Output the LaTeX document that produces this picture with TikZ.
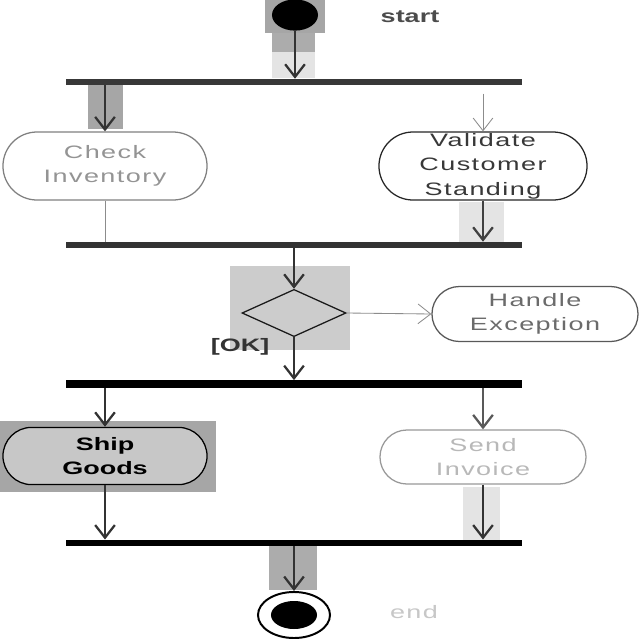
\documentclass[tikz,border=0pt]{standalone}
\usepackage{fontspec}
\newfontfamily\dfont[FakeStretch=1.5,LetterSpace=8]{Liberation Sans}
\newfontfamily\dbfont[FakeStretch=1.5]{Liberation Sans}
\usetikzlibrary{shapes.geometric,shapes.misc,arrows.meta}
\definecolor{boxA}{HTML}{A6A6A6}
\definecolor{boxB}{HTML}{ACACAC}
\definecolor{boxL}{HTML}{E4E4E4}
\definecolor{boxD}{HTML}{CCCCCC}
\tikzset{
  txt/.style={font=\dfont\fontsize{12.8}{17.4}\selectfont},
  btxt/.style={font=\dbfont\bfseries\fontsize{12.8}{17.4}\selectfont},
  activity/.style={rounded rectangle, draw, line width=0.9pt, align=center, inner sep=0pt,
     minimum width=5.1cm, minimum height=1.7cm, txt},
  bar/.style={rectangle, inner sep=0pt, minimum width=11.375cm},
  flow/.style={line width=1.6pt, draw=black!80, -{Straight Barb[length=9pt,width=14pt]}},
  thinflow/.style={line width=0.6pt, draw=black!45, -{Straight Barb[length=9pt,width=14pt]}},
}
\begin{document}
\begin{tikzpicture}[x=0.025cm,y=-0.025cm]
\useasboundingbox (0,0) rectangle (640,640);
\fill[white] (0,0) rectangle (640,640);
% highlight boxes
\fill[boxA] (265,0) rectangle (325,33);
\fill[boxB] (272,33) rectangle (315,52);
\fill[boxL] (272,52) rectangle (315,78);
\fill[boxA] (88,84) rectangle (123,129);
\fill[boxL] (459,202) rectangle (504,246);
\fill[boxD] (230,266) rectangle (350,350);
\fill[boxA] (0,421) rectangle (216,492);
\fill[boxL] (463,487) rectangle (500,540);
\fill[boxB] (269,546) rectangle (317,590);
% nodes
\node[ellipse, fill=black, minimum width=1.15cm, minimum height=0.78cm, inner sep=0pt] (start) at (295,15) {};
\node[btxt, text=black!70] (startlbl) at (410,17) {start};
\node[bar, fill=black!78, minimum height=0.15cm] (bar1) at (294,82) {};
\node[activity, draw=black!50, text=black!42] (check) at (105,166) {Check\\Inventory};
\node[activity, draw=black!85, text=black!78, minimum width=5.2cm] (validate) at (483,166) {Validate\\Customer\\Standing};
\node[bar, fill=black!80, minimum height=0.15cm] (bar2) at (294,245) {};
\node[diamond, draw=black!90, fill=boxD, line width=0.9pt, inner sep=0pt, minimum width=2.6cm, minimum height=1.18cm] (dec) at (294,313) {};
\node[activity, draw=black!65, text=black!58, minimum width=5.15cm, minimum height=1.375cm] (handle) at (535,314) {Handle\\Exception};
\node[btxt, text=black!80] (ok) at (240,347) {[OK]};
\node[bar, fill=black, minimum height=0.18cm] (bar3) at (294,384) {};
\node[activity, draw=black, fill=black!22, minimum height=1.43cm, btxt, text=black] (ship) at (105,456) {Ship\\Goods};
\node[activity, draw=black!40, text=black!28, minimum width=5.15cm, minimum height=1.35cm] (send) at (483,457) {Send\\Invoice};
\node[bar, fill=black, minimum height=0.16cm] (bar4) at (294,543) {};
\node[ellipse, draw=black, line width=1.4pt, minimum width=1.8cm, minimum height=1.15cm, inner sep=0pt] (end) at (294,615) {};
\node[ellipse, fill=black, minimum width=1.15cm, minimum height=0.7cm, inner sep=0pt] (endin) at (end) {};
\node[txt, text=black!22] (endlbl) at (414,612) {end};
% connectors
\draw[flow] (start.south) -- (start.south |- bar1.north);
\draw[flow] (check.north |- bar1.south) -- (check.north);
\draw[thinflow] ([yshift=-6pt]validate.north |- bar1.south) -- (validate.north);
\draw[line width=0.6pt, draw=black!45] (check.south) -- (check.south |- bar2.north);
\draw[flow, draw=black!75] (validate.south) -- (validate.south |- bar2.north);
\draw[flow] (dec.north |- bar2.south) -- (dec.north);
\draw[thinflow] (dec.east) -- (handle.west);
\draw[flow] (dec.south) -- (dec.south |- bar3.north);
\draw[flow] (ship.north |- bar3.south) -- (ship.north);
\draw[flow, draw=black!65] (send.north |- bar3.south) -- (send.north);
\draw[flow] (ship.south) -- (ship.south |- bar4.north);
\draw[flow] (send.south) -- (send.south |- bar4.north);
\draw[flow] (bar4.south -| end.north) -- (end.north);
\end{tikzpicture}
\end{document}
